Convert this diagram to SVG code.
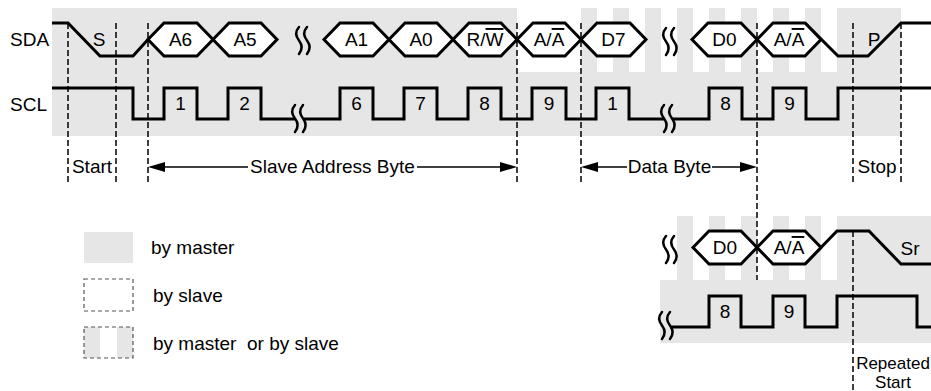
<svg xmlns="http://www.w3.org/2000/svg" xmlns:xlink="http://www.w3.org/1999/xlink" width="931" height="391" viewBox="0 0 931 391">
<style>
text{font-family:"Liberation Sans",Arial,sans-serif;font-size:19px;fill:#000}
.m{text-anchor:middle}
.sm{font-size:17px}
.wave{fill:none;stroke:#000;stroke-width:3;stroke-linejoin:miter}
.hex{fill:#fff;stroke:#000;stroke-width:3;stroke-linejoin:miter}
.dash{stroke:#000;stroke-width:1.5;stroke-dasharray:6 3;fill:none}
.sq{fill:none;stroke:#000;stroke-width:2.5;stroke-linecap:round}
.bg{fill:#e6e6e6}
.wh{fill:#fff}
.arr{stroke:#000;stroke-width:1.5}
.ov{text-decoration:overline}
</style>
<defs>
<path id="sq" class="sq" d="M0,0 c-3.5,4 -3.5,9 0,13.5 c3.5,4.5 3.5,9 0,13.5"/>
<g id="sq2"><use xlink:href="#sq"/><use xlink:href="#sq" x="8"/></g>
</defs>

<g id="background">
<rect class="bg" x="52" y="8" width="849" height="128"/>
<rect class="wh" x="517" y="8" width="64" height="64"/>
<rect class="wh" x="597" y="8" width="16" height="64"/>
<rect class="wh" x="629" y="8" width="16" height="64"/>
<rect class="wh" x="661" y="8" width="16" height="64"/>
<rect class="wh" x="693" y="8" width="16" height="64"/>
<rect class="wh" x="725" y="8" width="16" height="64"/>
<rect class="wh" x="757" y="8" width="16" height="64"/>
<rect class="wh" x="789" y="8" width="16" height="64"/>
<rect class="wh" x="821" y="8" width="16" height="64"/>
<rect class="bg" x="660" y="280" width="271" height="63"/>
<rect class="bg" x="677" y="216" width="16" height="64"/>
<rect class="bg" x="709" y="216" width="16" height="64"/>
<rect class="bg" x="741" y="216" width="16" height="64"/>
<rect class="bg" x="773" y="216" width="16" height="64"/>
<rect class="bg" x="805" y="216" width="16" height="64"/>
<rect class="bg" x="837" y="216" width="94" height="64"/>
</g>

<g id="markers">
<line class="dash" x1="68" y1="23" x2="68" y2="183"/>
<line class="dash" x1="116" y1="23" x2="116" y2="183"/>
<line class="dash" x1="148" y1="23" x2="148" y2="183"/>
<line class="dash" x1="517" y1="23" x2="517" y2="183"/>
<line class="dash" x1="581" y1="23" x2="581" y2="183"/>
<line class="dash" x1="757" y1="23" x2="757" y2="280"/>
<line class="dash" x1="853" y1="23" x2="853" y2="183"/>
<line class="dash" x1="901" y1="23" x2="901" y2="183"/>
<line class="dash" x1="853" y1="231" x2="853" y2="391"/>
</g>

<g id="labels">
<text x="10" y="46">SDA</text>
<text x="10" y="111">SCL</text>
</g>

<g id="sda">
<path class="wave" d="M52,23 H68 L100,56 H133 L148,39.5"/>
<path class="wave" d="M805,23 L838,56 H868 L901,23 H931"/>
<g id="hex-a6"><path class="hex" d="M148,39.5 L164,23 H197 L213,39.5 L197,56 H164 Z"/><text class="m" x="180.5" y="46">A6</text></g>
<g id="hex-a5"><path class="hex" d="M213,39.5 L229,23 H261 L277,39.5 L261,56 H229 Z"/><text class="m" x="245" y="46">A5</text></g>
<g id="hex-a1"><path class="hex" d="M324,39.5 L340,23 H373 L389,39.5 L373,56 H340 Z"/><text class="m" x="356.5" y="46">A1</text></g>
<g id="hex-a0"><path class="hex" d="M389,39.5 L405,23 H437 L453,39.5 L437,56 H405 Z"/><text class="m" x="421" y="46">A0</text></g>
<g id="hex-rw"><path class="hex" d="M453,39.5 L469,23 H501 L517,39.5 L501,56 H469 Z"/><text class="m" x="485" y="46">R/<tspan class="ov">W</tspan></text></g>
<g id="hex-ack1"><path class="hex" d="M517,39.5 L533,23 H565 L581,39.5 L565,56 H533 Z"/><text class="m" x="549" y="46">A/<tspan class="ov">A</tspan></text></g>
<g id="hex-d7"><path class="hex" d="M581,39.5 L597,23 H630 L646,39.5 L630,56 H597 Z"/><text class="m" x="613.5" y="46">D7</text></g>
<g id="hex-d0"><path class="hex" d="M692,39.5 L708,23 H741 L757,39.5 L741,56 H708 Z"/><text class="m" x="724.5" y="46">D0</text></g>
<g id="hex-ack2"><path class="hex" d="M757,39.5 L773,23 H805 L821,39.5 L805,56 H773 Z"/><text class="m" x="789" y="46">A/<tspan class="ov">A</tspan></text></g>
<use xlink:href="#sq2" x="299" y="27"/>
<use xlink:href="#sq2" x="666" y="28"/>
<text class="m" x="99" y="46">S</text>
<text class="m" x="874" y="46">P</text>
</g>

<g id="scl">
<path class="wave" d="M52,88 H133 V119 H164 V88 H197 V119 H228 V88 H261 V119 H295"/>
<path class="wave" d="M303,119 H340 V88 H373 V119 H404 V88 H437 V119 H468 V88 H501 V119 H532 V88 H566 V119 H596 V88 H629 V119 H664"/>
<path class="wave" d="M672,119 H709 V88 H742 V119 H773 V88 H806 V119 H838 V88 H931"/>
<use xlink:href="#sq2" x="295" y="105"/>
<use xlink:href="#sq2" x="664" y="105"/>
<text class="m" x="180.5" y="110">1</text>
<text class="m" x="244.5" y="110">2</text>
<text class="m" x="356.5" y="110">6</text>
<text class="m" x="420.5" y="110">7</text>
<text class="m" x="484.5" y="110">8</text>
<text class="m" x="549" y="110">9</text>
<text class="m" x="612.5" y="110">1</text>
<text class="m" x="725.5" y="110">8</text>
<text class="m" x="789.5" y="110">9</text>
</g>

<g id="phases">
<text class="m" x="92" y="173">Start</text>
<line class="arr" x1="160" y1="167" x2="248" y2="167"/>
<line class="arr" x1="417" y1="167" x2="505" y2="167"/>
<polygon points="148,167 165,162 165,172"/>
<polygon points="517,167 500,162 500,172"/>
<text class="m" x="332.5" y="173">Slave Address Byte</text>
<line class="arr" x1="593" y1="167" x2="627" y2="167"/>
<line class="arr" x1="712" y1="167" x2="745" y2="167"/>
<polygon points="581,167 598,162 598,172"/>
<polygon points="757,167 740,162 740,172"/>
<text class="m" x="669.5" y="173">Data Byte</text>
<text class="m" x="877" y="173">Stop</text>
</g>

<g id="repeated-start">
<path class="wave" d="M805,264 L837,231 H869 L901,264 H931"/>
<g id="hex-d0b"><path class="hex" d="M693,247.5 L709,231 H741 L757,247.5 L741,264 H709 Z"/><text class="m" x="725" y="254">D0</text></g>
<g id="hex-ack3"><path class="hex" d="M757,247.5 L773,231 H805 L821,247.5 L805,264 H773 Z"/><text class="m" x="789" y="254">A/<tspan class="ov">A</tspan></text></g>
<use xlink:href="#sq2" x="666" y="236"/>
<text class="m" x="910" y="255">Sr</text>
<path class="wave" d="M670,327 H709 V296 H741 V327 H773 V296 H805 V327 H837 V296 H917 V327 H931"/>
<use xlink:href="#sq2" x="662" y="312"/>
<text class="m" x="725" y="318">8</text>
<text class="m" x="789" y="318">9</text>
<text class="m sm" x="893" y="369">Repeated</text>
<text class="m sm" x="893" y="388">Start</text>
</g>

<g id="legend">
<g id="legend-master"><rect class="bg" x="84" y="232" width="49" height="31"/><text x="151" y="254">by master</text></g>
<g id="legend-slave"><rect x="84" y="279" width="49" height="32" fill="none" stroke="#555" stroke-width="1.2" stroke-dasharray="4 3"/><text x="153" y="302">by slave</text></g>
<g id="legend-both"><rect class="bg" x="84" y="327" width="16" height="31"/><rect class="bg" x="117" y="327" width="16" height="31"/><rect x="84" y="327" width="49" height="31" fill="none" stroke="#555" stroke-width="1.2" stroke-dasharray="4 3"/><text x="153" y="350" style="white-space:pre">by master  or by slave</text></g>
</g>
</svg>
